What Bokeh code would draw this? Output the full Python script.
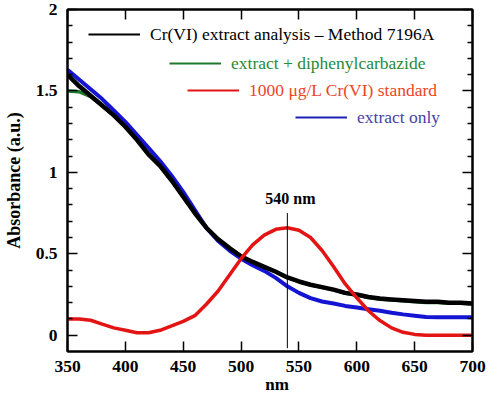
from bokeh.plotting import figure
from bokeh.models import (ColumnDataSource, Range1d, LinearAxis, FixedTicker,
                          Legend, LegendItem, Label)
from bokeh.embed import file_html
from bokeh.resources import INLINE

# UV-Vis spectra, 350-700 nm every 10 nm
wavelength = list(range(350, 701, 10))

cr_extract_analysis = [1.60, 1.53, 1.47, 1.41, 1.35, 1.28, 1.20, 1.11, 1.04, 0.95,
                       0.85, 0.75, 0.66, 0.59, 0.535, 0.485, 0.45, 0.42, 0.39, 0.355,
                       0.33, 0.31, 0.295, 0.28, 0.26, 0.25, 0.235, 0.225, 0.22, 0.215,
                       0.21, 0.205, 0.205, 0.20, 0.20, 0.195]

extract_dpc = [1.50, 1.495, 1.465, 1.41, 1.35, 1.28, 1.20, 1.11, 1.04, 0.95,
               0.85, 0.75, 0.66, 0.59, 0.535, 0.485, 0.45, 0.42, 0.39, 0.355,
               0.33, 0.31, 0.293, 0.277, 0.257, 0.246, 0.231, 0.221, 0.216, 0.211,
               0.206, 0.201, 0.201, 0.196, 0.196, 0.191]

standard_1000 = [0.10, 0.10, 0.092, 0.068, 0.045, 0.03, 0.015, 0.015, 0.03, 0.058,
                 0.085, 0.12, 0.19, 0.27, 0.37, 0.47, 0.555, 0.615, 0.65, 0.66,
                 0.645, 0.60, 0.52, 0.42, 0.315, 0.23, 0.15, 0.09, 0.045, 0.018,
                 0.005, 0.0, 0.0, 0.0, 0.0, 0.0]

extract_only = [1.63, 1.57, 1.51, 1.45, 1.38, 1.31, 1.23, 1.15, 1.07, 0.98,
                0.88, 0.77, 0.66, 0.58, 0.52, 0.47, 0.43, 0.395, 0.352, 0.30,
                0.26, 0.228, 0.207, 0.195, 0.18, 0.17, 0.16, 0.15, 0.138, 0.128,
                0.12, 0.112, 0.11, 0.11, 0.11, 0.11]

legend_labels = ["Cr(VI) extract analysis \u2013 Method 7196A",
                 "extract + diphenylcarbazide",
                 "1000 \u03bcg/L Cr(VI) standard",
                 "extract only"]

y_ticks = [0, 0.5, 1, 1.5, 2]
y_tick_labels = ["0", "0.5", "1", "1.5", "2"]
x_ticks = [350, 400, 450, 500, 550, 600, 650, 700]

peak_nm = 540
peak_label = "540 nm"

SERIF = "Liberation Serif"

src = ColumnDataSource(dict(nm=wavelength, black=cr_extract_analysis, green=extract_dpc,
                            red=standard_1000, blue=extract_only))

p = figure(width=489, height=395, output_backend="svg", toolbar_location=None,
           x_range=Range1d(350, 700), y_range=Range1d(-0.1, 2.0),
           x_axis_location=None, y_axis_location=None)
p.min_border_left = 67
p.min_border_right = 17
p.min_border_top = 9
p.min_border_bottom = 44
p.background_fill_color = "white"
p.border_fill_color = "white"
p.xgrid.visible = False
p.ygrid.visible = False
p.outline_line_color = "black"
p.outline_line_width = 2

y_minor = [round(v * 0.1, 1) for v in range(0, 21) if v % 5]
yticker = FixedTicker(ticks=y_ticks, minor_ticks=y_minor)
xticker = FixedTicker(ticks=x_ticks, minor_ticks=[])


def style_axis(ax, labels=True):
    ax.axis_line_color = "black"
    ax.axis_line_width = 2
    ax.major_tick_line_color = "black"
    ax.major_tick_line_width = 1.5
    ax.minor_tick_line_color = "black"
    ax.minor_tick_line_width = 1.5
    ax.major_tick_in = 10
    ax.major_tick_out = 0
    ax.minor_tick_in = 5
    ax.minor_tick_out = 0
    ax.major_label_text_font = SERIF
    ax.major_label_text_font_style = "bold"
    if labels:
        ax.major_label_text_font_size = "17.5px"
        ax.major_label_text_color = "black"
    else:
        # tick marks only on the mirrored axes
        ax.major_label_text_font_size = "1px"
        ax.major_label_text_color = None
        ax.major_label_standoff = 0
    ax.axis_label_text_font = SERIF
    ax.axis_label_text_font_style = "bold"
    ax.axis_label_text_font_size = "18px"
    ax.axis_label_text_color = "black"


left = LinearAxis(ticker=yticker, axis_label="Absorbance (a.u.)",
                  major_label_overrides=dict(zip(y_ticks, y_tick_labels)))
style_axis(left)
left.major_label_standoff = 10
left.axis_label_standoff = 9
p.add_layout(left, "left")

right = LinearAxis(ticker=yticker)
style_axis(right, labels=False)
p.add_layout(right, "right")

bottom = LinearAxis(ticker=xticker)
style_axis(bottom)
bottom.major_label_standoff = 9
p.add_layout(bottom, "below")

top = LinearAxis(ticker=xticker)
style_axis(top, labels=False)
p.add_layout(top, "above")

# x-axis title in the lower border, under the tick labels
p.add_layout(Label(x=(350 + 700) / 2, y=-0.1, x_offset=7, y_offset=-33, text="nm",
                   text_align="center", text_baseline="middle", text_font=SERIF,
                   text_font_style="bold", text_font_size="17px", text_color="black"),
             "below")

# thin copies of the spectra used as legend keys (hidden under the thick lines)
line_colors = ["black", "#1c7a2c", "#e31414", "#1f1fb8"]
fields = ["black", "green", "red", "blue"]
keys = [p.line("nm", f, source=src, line_color=c, line_width=2)
        for f, c in zip(fields, line_colors)]

# spectra
r_green = p.line("nm", "green", source=src, line_color="#1c7a2c", line_width=3.5)
r_blue = p.line("nm", "blue", source=src, line_color="#1414d2", line_width=4)
r_black = p.line("nm", "black", source=src, line_color="black", line_width=4.5)
r_red = p.line("nm", "red", source=src, line_color="#e31414", line_width=3.5)

# 540 nm marker
p.segment(x0=[peak_nm], y0=[-0.08], x1=[peak_nm], y1=[0.75], line_color="black",
          line_width=1)
p.add_layout(Label(x=peak_nm, y=0.79, text=peak_label, text_align="center",
                   text_baseline="bottom", text_font=SERIF, text_font_style="bold",
                   text_font_size="16px", text_color="black", x_offset=3))

# legend: one row per entry, text right-aligned at a common edge
text_colors = ["black", "#2a8a36", "#ee4426", "#4a3fa6"]
row_x = [21, 102, 120, 228]
row_y = [306, 277, 250, 223]
for label, key, tc, lx, ly in zip(legend_labels, keys, text_colors, row_x, row_y):
    leg = Legend(items=[LegendItem(label=label, renderers=[key])],
                 location=(lx, ly), padding=0, margin=0, spacing=0,
                 glyph_width=52, glyph_height=22, label_height=22,
                 label_standoff=10, border_line_color=None,
                 background_fill_alpha=0, label_text_font=SERIF,
                 label_text_font_size="17.5px", label_text_color=tc)
    p.add_layout(leg, "center")

open("out.html", "w").write(file_html(p, INLINE))
